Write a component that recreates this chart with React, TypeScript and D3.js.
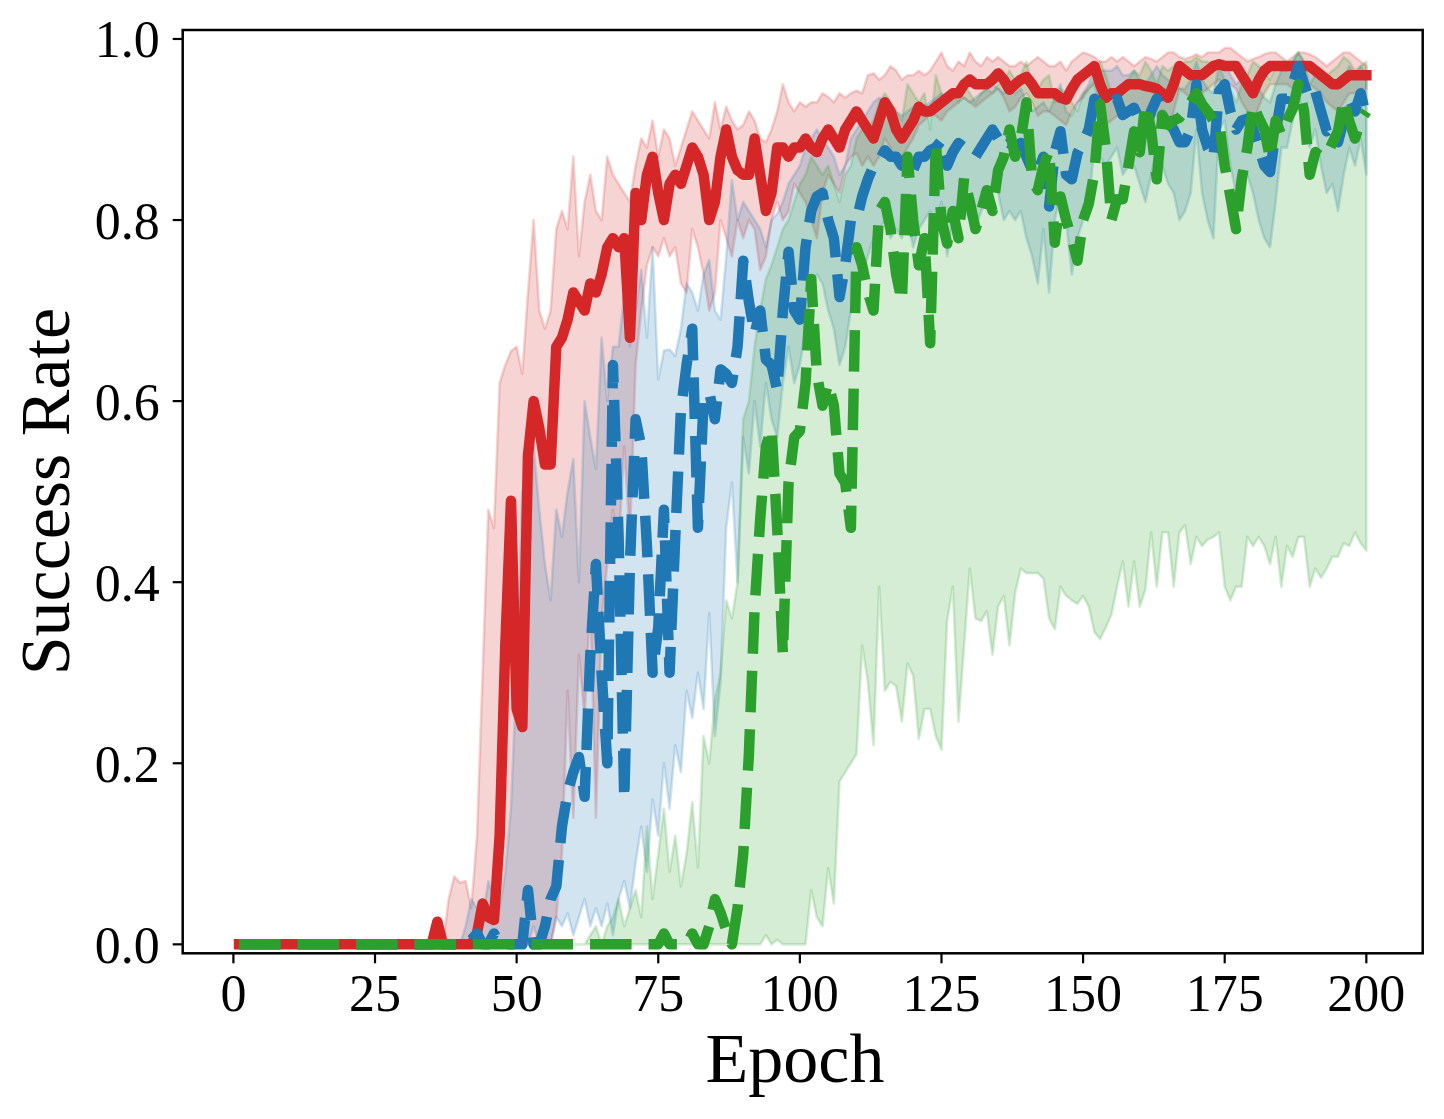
import * as d3 from 'd3';

// success rate per epoch (epochs 1..200)
const EPOCHS = d3.range(1, 201);

const RED_MEAN = [
  0, 0, 0, 0, 0, 0, 0, 0, 0, 0,
  0, 0, 0, 0, 0, 0, 0, 0, 0, 0,
  0, 0, 0, 0, 0, 0, 0, 0, 0, 0,
  0, 0, 0, 0, 0, 0.025, 0, 0, 0, 0,
  0, 0, 0.012, 0.045, 0.03, 0.027, 0.12, 0.33, 0.49, 0.26,
  0.24, 0.54, 0.6, 0.57, 0.53, 0.53, 0.66, 0.67, 0.69, 0.72,
  0.71, 0.7, 0.73, 0.72, 0.74, 0.77, 0.78, 0.77, 0.78, 0.67,
  0.83, 0.8, 0.85, 0.87, 0.83, 0.8, 0.84, 0.85, 0.84, 0.86,
  0.88, 0.87, 0.85, 0.8, 0.82, 0.87, 0.9, 0.87, 0.855, 0.85,
  0.85, 0.89, 0.85, 0.81, 0.83, 0.88, 0.88, 0.87, 0.88, 0.88,
  0.89, 0.88, 0.875, 0.89, 0.9, 0.89, 0.88, 0.9, 0.91, 0.92,
  0.91, 0.9, 0.89, 0.91, 0.93, 0.92, 0.9, 0.89, 0.9, 0.91,
  0.925, 0.92, 0.92, 0.925, 0.93, 0.935, 0.94, 0.94, 0.95, 0.955,
  0.95, 0.95, 0.95, 0.955, 0.962, 0.955, 0.944, 0.95, 0.955, 0.958,
  0.95, 0.94, 0.94, 0.94, 0.94, 0.935, 0.933, 0.945, 0.955, 0.96,
  0.965, 0.97, 0.95, 0.935, 0.94, 0.94, 0.945, 0.95, 0.95, 0.95,
  0.948, 0.947, 0.945, 0.94, 0.935, 0.95, 0.97, 0.965, 0.96, 0.96,
  0.96, 0.965, 0.97, 0.972, 0.97, 0.97, 0.97, 0.96, 0.95, 0.94,
  0.955, 0.965, 0.97, 0.97, 0.97, 0.97, 0.97, 0.97, 0.97, 0.97,
  0.965, 0.96, 0.955, 0.95, 0.95, 0.955, 0.96, 0.96, 0.96, 0.96,
];
const RED_UP = [
  0, 0, 0, 0, 0, 0, 0, 0, 0, 0,
  0, 0, 0, 0, 0, 0, 0, 0, 0, 0,
  0, 0, 0, 0, 0, 0, 0, 0, 0, 0,
  0, 0, 0, 0, 0, 0, 0, 0.05, 0.075, 0.068,
  0.07, 0.04, 0.12, 0.3, 0.48, 0.46, 0.62, 0.64, 0.655, 0.66,
  0.63, 0.72, 0.8, 0.7, 0.68, 0.7, 0.79, 0.81, 0.79, 0.87,
  0.76, 0.82, 0.85, 0.81, 0.8, 0.87, 0.85, 0.84, 0.83, 0.82,
  0.86, 0.89, 0.88, 0.91, 0.87, 0.9, 0.89, 0.86, 0.88, 0.9,
  0.92, 0.91, 0.9, 0.89, 0.93, 0.9, 0.925, 0.91, 0.9, 0.905,
  0.92, 0.91, 0.89, 0.886, 0.9, 0.92, 0.95, 0.93, 0.92, 0.93,
  0.925, 0.93, 0.93, 0.94, 0.936, 0.93, 0.94, 0.935, 0.94, 0.943,
  0.94, 0.96, 0.962, 0.955, 0.96, 0.97, 0.965, 0.955, 0.96, 0.96,
  0.965, 0.96, 0.965, 0.975, 0.985, 0.97, 0.965, 0.975, 0.97, 0.985,
  0.975, 0.97, 0.98, 0.975, 0.98, 0.975, 0.97, 0.97, 0.975, 0.97,
  0.975, 0.98, 0.975, 0.97, 0.97, 0.975, 0.965, 0.975, 0.98, 0.985,
  0.983, 0.98, 0.975, 0.975, 0.98, 0.975, 0.98, 0.975, 0.97, 0.975,
  0.98, 0.978, 0.975, 0.98, 0.985, 0.985, 0.98, 0.978, 0.98, 0.983,
  0.98, 0.985, 0.985, 0.985, 0.99, 0.99, 0.985, 0.98, 0.975, 0.978,
  0.98, 0.983, 0.985, 0.985, 0.98, 0.975, 0.98, 0.985, 0.985, 0.983,
  0.98, 0.975, 0.97, 0.975, 0.98, 0.985, 0.985, 0.98, 0.975, 0.97,
];
const RED_LO = [
  0, 0, 0, 0, 0, 0, 0, 0, 0, 0,
  0, 0, 0, 0, 0, 0, 0, 0, 0, 0,
  0, 0, 0, 0, 0, 0, 0, 0, 0, 0,
  0, 0, 0, 0, 0, 0, 0, 0, 0, 0,
  0, 0, 0, 0, 0, 0, 0, 0, 0, 0,
  0, 0, 0, 0, 0, 0, 0.03, 0.1, 0.28, 0.14,
  0.32, 0.25, 0.38, 0.14, 0.36, 0.42, 0.48, 0.44, 0.55, 0.45,
  0.64, 0.7, 0.75, 0.77, 0.76, 0.78, 0.76, 0.77, 0.73, 0.72,
  0.79, 0.77, 0.74, 0.7, 0.72, 0.8, 0.78, 0.76, 0.8, 0.78,
  0.8, 0.79, 0.745, 0.76, 0.8, 0.82, 0.8, 0.81, 0.84, 0.83,
  0.82, 0.8, 0.78, 0.83, 0.85, 0.84, 0.83, 0.86, 0.87, 0.874,
  0.86, 0.87, 0.86, 0.87, 0.89, 0.88, 0.86, 0.87, 0.88, 0.89,
  0.905, 0.91, 0.918, 0.915, 0.91, 0.92, 0.925, 0.93, 0.935, 0.93,
  0.925, 0.93, 0.935, 0.94, 0.945, 0.935, 0.92, 0.925, 0.935, 0.94,
  0.93, 0.915, 0.92, 0.92, 0.915, 0.91, 0.905, 0.92, 0.93, 0.935,
  0.945, 0.95, 0.925, 0.905, 0.91, 0.915, 0.92, 0.925, 0.925, 0.92,
  0.915, 0.92, 0.915, 0.91, 0.9, 0.92, 0.945, 0.94, 0.935, 0.935,
  0.94, 0.945, 0.95, 0.955, 0.95, 0.95, 0.945, 0.93, 0.92, 0.905,
  0.925, 0.94, 0.95, 0.95, 0.95, 0.95, 0.945, 0.95, 0.95, 0.95,
  0.945, 0.94, 0.93, 0.925, 0.92, 0.93, 0.94, 0.94, 0.945, 0.945,
];

const BLUE_MEAN = [
  0, 0, 0, 0, 0, 0, 0, 0, 0, 0,
  0, 0, 0, 0, 0, 0, 0, 0, 0, 0,
  0, 0, 0, 0, 0, 0, 0, 0, 0, 0,
  0, 0, 0, 0, 0, 0, 0, 0, 0, 0,
  0, 0.005, 0.012, 0, 0, 0.012, 0, 0, 0, 0,
  0, 0.06, 0, 0, 0.02, 0.05, 0.064, 0.13, 0.168, 0.19,
  0.207, 0.163, 0.32, 0.42, 0.3, 0.2, 0.64, 0.45, 0.16, 0.42,
  0.58, 0.55, 0.44, 0.3, 0.35, 0.48, 0.3, 0.45, 0.59, 0.64,
  0.68, 0.46, 0.6, 0.61, 0.58, 0.635, 0.63, 0.62, 0.66, 0.755,
  0.71, 0.674, 0.7, 0.646, 0.64, 0.612, 0.7, 0.765, 0.7, 0.69,
  0.77, 0.81, 0.826, 0.83, 0.8, 0.78, 0.715, 0.75, 0.8, 0.8,
  0.826, 0.845, 0.86, 0.866, 0.877, 0.87, 0.87, 0.86, 0.87, 0.855,
  0.87, 0.87, 0.877, 0.88, 0.888, 0.86, 0.875, 0.885, 0.88, 0.874,
  0.87, 0.88, 0.89, 0.9, 0.89, 0.88, 0.885, 0.88, 0.885, 0.87,
  0.855, 0.853, 0.87, 0.815, 0.875, 0.898, 0.85, 0.845, 0.874, 0.886,
  0.9, 0.934, 0.93, 0.928, 0.93, 0.934, 0.916, 0.92, 0.924, 0.91,
  0.898, 0.92, 0.934, 0.92, 0.909, 0.9, 0.886, 0.886, 0.9, 0.95,
  0.9, 0.88, 0.868, 0.942, 0.95, 0.92, 0.9, 0.91, 0.912, 0.9,
  0.88, 0.86, 0.853, 0.898, 0.934, 0.934, 0.95, 0.97, 0.95, 0.934,
  0.942, 0.92, 0.898, 0.905, 0.886, 0.91, 0.934, 0.92, 0.94, 0.913,
];
const BLUE_UP = [
  0, 0, 0, 0, 0, 0, 0, 0, 0, 0,
  0, 0, 0, 0, 0, 0, 0, 0, 0, 0,
  0, 0, 0, 0, 0, 0, 0, 0, 0, 0,
  0, 0, 0, 0, 0, 0, 0, 0, 0, 0,
  0.02, 0.05, 0.04, 0.03, 0.07, 0.05, 0.04, 0.08, 0.15, 0.3,
  0.5, 0.4, 0.55, 0.48, 0.42, 0.38, 0.48, 0.45, 0.5, 0.536,
  0.4, 0.6, 0.56, 0.525, 0.67, 0.6, 0.66, 0.66, 0.72, 0.66,
  0.7, 0.745, 0.67, 0.77, 0.624, 0.656, 0.657, 0.65, 0.68, 0.73,
  0.72, 0.7, 0.74, 0.756, 0.7, 0.69, 0.76, 0.844, 0.8, 0.82,
  0.81, 0.8, 0.79, 0.77, 0.8, 0.807, 0.82, 0.84, 0.85, 0.86,
  0.88, 0.89, 0.9, 0.89, 0.88, 0.87, 0.85, 0.86, 0.89, 0.9,
  0.91, 0.92, 0.93, 0.935, 0.93, 0.925, 0.92, 0.915, 0.92, 0.925,
  0.93, 0.925, 0.93, 0.935, 0.94, 0.93, 0.935, 0.94, 0.935, 0.93,
  0.935, 0.94, 0.945, 0.95, 0.945, 0.94, 0.945, 0.94, 0.945, 0.93,
  0.92, 0.925, 0.93, 0.92, 0.935, 0.95, 0.92, 0.915, 0.93, 0.94,
  0.95, 0.97, 0.965, 0.965, 0.965, 0.97, 0.96, 0.96, 0.965, 0.955,
  0.95, 0.96, 0.97, 0.96, 0.955, 0.95, 0.945, 0.945, 0.955, 0.975,
  0.955, 0.945, 0.94, 0.97, 0.975, 0.96, 0.95, 0.955, 0.96, 0.95,
  0.945, 0.935, 0.93, 0.95, 0.965, 0.965, 0.975, 0.985, 0.975, 0.965,
  0.97, 0.96, 0.95, 0.955, 0.945, 0.955, 0.97, 0.96, 0.97, 0.96,
];
const BLUE_LO = [
  0, 0, 0, 0, 0, 0, 0, 0, 0, 0,
  0, 0, 0, 0, 0, 0, 0, 0, 0, 0,
  0, 0, 0, 0, 0, 0, 0, 0, 0, 0,
  0, 0, 0, 0, 0, 0, 0, 0, 0, 0,
  0, 0, 0, 0, 0, 0, 0, 0, 0, 0,
  0.01, 0, 0.02, 0, 0.01, 0, 0.03, 0.02, 0.034, 0.01,
  0.03, 0.05, 0.02, 0.04, 0.02, 0.045, 0.01, 0.05, 0.07, 0.04,
  0.09, 0.13, 0.08, 0.16, 0.12, 0.2, 0.15, 0.22, 0.19, 0.28,
  0.25, 0.3, 0.26, 0.366, 0.23, 0.29, 0.46, 0.51, 0.4, 0.56,
  0.52, 0.6, 0.55, 0.62, 0.58, 0.56, 0.62, 0.66, 0.62, 0.64,
  0.68, 0.72, 0.74, 0.73, 0.7, 0.68, 0.64, 0.66, 0.7, 0.72,
  0.74, 0.76, 0.78, 0.79, 0.8, 0.78, 0.79, 0.78, 0.8, 0.77,
  0.79, 0.8, 0.81, 0.8, 0.82, 0.76, 0.8, 0.82, 0.81, 0.8,
  0.79, 0.81, 0.82, 0.84, 0.83, 0.8, 0.81, 0.8, 0.81, 0.78,
  0.76, 0.73, 0.79, 0.72, 0.8, 0.83, 0.8, 0.74, 0.78, 0.8,
  0.82, 0.88, 0.87, 0.86, 0.87, 0.88, 0.85, 0.86, 0.86, 0.84,
  0.82, 0.85, 0.88, 0.86, 0.84, 0.83, 0.8, 0.81, 0.83, 0.9,
  0.83, 0.8, 0.78, 0.9, 0.91, 0.86, 0.83, 0.85, 0.85, 0.83,
  0.8, 0.78, 0.77, 0.82, 0.88, 0.88, 0.91, 0.94, 0.91, 0.88,
  0.9, 0.86, 0.83, 0.84, 0.81, 0.85, 0.88, 0.86, 0.89, 0.85,
];

const GREEN_MEAN = [
  0, 0, 0, 0, 0, 0, 0, 0, 0, 0,
  0, 0, 0, 0, 0, 0, 0, 0, 0, 0,
  0, 0, 0, 0, 0, 0, 0, 0, 0, 0,
  0, 0, 0, 0, 0, 0, 0, 0, 0, 0,
  0, 0, 0, 0, 0, 0, 0, 0, 0, 0,
  0, 0, 0, 0, 0, 0, 0, 0, 0, 0,
  0, 0, 0, 0, 0, 0, 0, 0, 0, 0,
  0, 0, 0, 0, 0, 0.012, 0, 0, 0, 0,
  0.012, 0, 0, 0.02, 0.05, 0.035, 0.016, 0, 0.04, 0.1,
  0.21, 0.37, 0.47, 0.55, 0.57, 0.46, 0.32, 0.51, 0.56, 0.567,
  0.62, 0.735, 0.63, 0.595, 0.62, 0.595, 0.52, 0.51, 0.46, 0.77,
  0.75, 0.72, 0.7, 0.81, 0.82, 0.79, 0.74, 0.71, 0.87, 0.8,
  0.75, 0.78, 0.664, 0.885, 0.8, 0.774, 0.81, 0.78, 0.847, 0.82,
  0.79, 0.81, 0.833, 0.81, 0.855, 0.87, 0.9, 0.87, 0.89, 0.93,
  0.844, 0.833, 0.86, 0.877, 0.775, 0.826, 0.8, 0.78, 0.755, 0.8,
  0.818, 0.853, 0.928, 0.88, 0.8, 0.823, 0.823, 0.86, 0.898, 0.875,
  0.928, 0.9, 0.845, 0.916, 0.905, 0.91, 0.913, 0.92, 0.93, 0.94,
  0.928, 0.92, 0.91, 0.909, 0.86, 0.826, 0.79, 0.845, 0.88, 0.928,
  0.913, 0.9, 0.868, 0.91, 0.894, 0.91, 0.923, 0.95, 0.92, 0.85,
  0.875, 0.87, 0.872, 0.885, 0.898, 0.934, 0.909, 0.89, 0.91, 0.92,
];
const GREEN_UP = [
  0, 0, 0, 0, 0, 0, 0, 0, 0, 0,
  0, 0, 0, 0, 0, 0, 0, 0, 0, 0,
  0, 0, 0, 0, 0, 0, 0, 0, 0, 0,
  0, 0, 0, 0, 0, 0, 0, 0, 0, 0,
  0, 0, 0, 0, 0, 0, 0, 0, 0, 0,
  0, 0, 0, 0, 0, 0, 0, 0, 0, 0,
  0, 0, 0.01, 0.02, 0, 0.02, 0.03, 0.05, 0.02, 0.04,
  0.06, 0.03, 0.13, 0.05, 0.1, 0.15, 0.08, 0.12, 0.064, 0.1,
  0.157, 0.085, 0.23, 0.2, 0.27, 0.3, 0.38, 0.36, 0.4, 0.58,
  0.6, 0.66, 0.7, 0.735, 0.75, 0.77, 0.79, 0.8, 0.82, 0.84,
  0.85, 0.87, 0.86, 0.85, 0.86, 0.84, 0.82, 0.85, 0.86, 0.89,
  0.9, 0.9, 0.91, 0.93, 0.94, 0.93, 0.92, 0.91, 0.95, 0.94,
  0.93, 0.94, 0.9, 0.96, 0.94, 0.93, 0.94, 0.93, 0.95, 0.94,
  0.93, 0.94, 0.945, 0.94, 0.95, 0.955, 0.965, 0.955, 0.96, 0.975,
  0.95, 0.945, 0.955, 0.96, 0.93, 0.945, 0.94, 0.93, 0.92, 0.94,
  0.945, 0.955, 0.975, 0.96, 0.94, 0.945, 0.945, 0.955, 0.965, 0.96,
  0.975, 0.965, 0.95, 0.97, 0.965, 0.97, 0.97, 0.975, 0.975, 0.98,
  0.975, 0.975, 0.97, 0.97, 0.955, 0.945, 0.93, 0.95, 0.96, 0.975,
  0.97, 0.965, 0.955, 0.97, 0.965, 0.97, 0.975, 0.985, 0.975, 0.95,
  0.96, 0.96, 0.96, 0.965, 0.97, 0.98, 0.975, 0.965, 0.97, 0.975,
];
const GREEN_LO = [
  0, 0, 0, 0, 0, 0, 0, 0, 0, 0,
  0, 0, 0, 0, 0, 0, 0, 0, 0, 0,
  0, 0, 0, 0, 0, 0, 0, 0, 0, 0,
  0, 0, 0, 0, 0, 0, 0, 0, 0, 0,
  0, 0, 0, 0, 0, 0, 0, 0, 0, 0,
  0, 0, 0, 0, 0, 0, 0, 0, 0, 0,
  0, 0, 0, 0, 0, 0, 0, 0, 0, 0,
  0, 0, 0, 0, 0, 0, 0, 0, 0, 0,
  0, 0, 0, 0, 0, 0, 0, 0, 0, 0,
  0, 0, 0, 0.01, 0, 0.005, 0, 0, 0, 0,
  0, 0.06, 0.03, 0.02, 0.084, 0.045, 0.18, 0.19, 0.2, 0.21,
  0.33, 0.29, 0.22, 0.395, 0.28, 0.29, 0.285, 0.246, 0.31, 0.297,
  0.227, 0.26, 0.26, 0.23, 0.215, 0.357, 0.395, 0.246, 0.33, 0.415,
  0.36, 0.357, 0.368, 0.32, 0.373, 0.385, 0.33, 0.388, 0.415, 0.41,
  0.41, 0.41, 0.404, 0.36, 0.348, 0.395, 0.385, 0.38, 0.376, 0.385,
  0.373, 0.345, 0.337, 0.35, 0.364, 0.395, 0.423, 0.373, 0.423, 0.373,
  0.392, 0.455, 0.395, 0.455, 0.455, 0.395, 0.455, 0.463, 0.42, 0.45,
  0.44, 0.447, 0.45, 0.455, 0.395, 0.38, 0.395, 0.395, 0.45, 0.44,
  0.45, 0.44, 0.42, 0.45, 0.395, 0.44, 0.428, 0.45, 0.45, 0.395,
  0.415, 0.405, 0.415, 0.428, 0.428, 0.443, 0.44, 0.455, 0.443, 0.435,
];

const X_TICKS = [0, 25, 50, 75, 100, 125, 150, 175, 200];
const Y_TICKS = [0, 0.2, 0.4, 0.6, 0.8, 1.0];
const Y_TICK_LABELS = ['0.0', '0.2', '0.4', '0.6', '0.8', '1.0'];

const SERIES = [
  { key: 'red', mean: RED_MEAN, lo: RED_LO, hi: RED_UP, color: '#d62728', dashed: false },
  { key: 'blue', mean: BLUE_MEAN, lo: BLUE_LO, hi: BLUE_UP, color: '#1f77b4', dashed: true },
  { key: 'green', mean: GREEN_MEAN, lo: GREEN_LO, hi: GREEN_UP, color: '#2ca02c', dashed: true },
];

const FONT = '"Liberation Serif", "Times New Roman", serif';

export default function App() {
  const width = 1444;
  const height = 1119;
  const box = { left: 182.7, right: 1422.7, top: 30, bottom: 953.3 };

  const x = d3.scaleLinear().domain([-8.95, 209.95]).range([box.left, box.right]);
  const y = d3.scaleLinear().domain([-0.0099, 1.0099]).range([box.bottom, box.top]);

  const band = (lo: number[], hi: number[]) =>
    d3
      .area<number>()
      .x((d) => x(d))
      .y0((_, i) => y(lo[i]))
      .y1((_, i) => y(hi[i]))(EPOCHS) || '';

  const line = (vals: number[]) =>
    d3
      .line<number>()
      .x((d) => x(d))
      .y((_, i) => y(vals[i]))(EPOCHS) || '';

  return (
    <svg
      width={width}
      height={height}
      style={{ position: 'absolute', left: 0, top: 0, background: '#fff' }}
    >
      <defs>
        <clipPath id="plot-clip">
          <rect x={box.left} y={box.top} width={box.right - box.left} height={box.bottom - box.top} />
        </clipPath>
      </defs>

      <g clipPath="url(#plot-clip)">
        {/* shaded ranges first */}
        {SERIES.map((s) => (
          <path
            key={`band-${s.key}`}
            d={band(s.lo, s.hi)}
            fill={s.color}
            fillOpacity={0.2}
            stroke={s.color}
            strokeOpacity={0.2}
            strokeWidth={2.6}
            strokeLinejoin="round"
          />
        ))}
        {/* then the mean curves */}
        {SERIES.map((s) => (
          <path
            key={`line-${s.key}`}
            d={line(s.mean)}
            fill="none"
            stroke={s.color}
            strokeWidth={10.5}
            strokeLinejoin="round"
            strokeLinecap={s.dashed ? 'butt' : 'square'}
            strokeDasharray={s.dashed ? '41.5 17' : undefined}
          />
        ))}
      </g>

      {/* x axis ticks */}
      {X_TICKS.map((t) => (
        <g key={`xt-${t}`} transform={`translate(${x(t)},${box.bottom})`}>
          <line y1={0} y2={10} stroke="#000" strokeWidth={2.2} />
          <text y={58} textAnchor="middle" fontFamily={FONT} fontSize={52} fill="#000">
            {t}
          </text>
        </g>
      ))}

      {/* y axis ticks */}
      {Y_TICKS.map((t, i) => (
        <g key={`yt-${t}`} transform={`translate(${box.left},${y(t)})`}>
          <line x1={0} x2={-10} stroke="#000" strokeWidth={2.2} />
          <text x={-23} y={18.5} textAnchor="end" fontFamily={FONT} fontSize={52} fill="#000">
            {Y_TICK_LABELS[i]}
          </text>
        </g>
      ))}

      <rect
        x={box.left}
        y={box.top}
        width={box.right - box.left}
        height={box.bottom - box.top}
        fill="none"
        stroke="#000"
        strokeWidth={2.5}
      />

      <text x={795} y={1082} textAnchor="middle" fontFamily={FONT} fontSize={70} fill="#000">
        Epoch
      </text>
      <text
        transform={`translate(69,${(box.top + box.bottom) / 2}) rotate(-90)`}
        textAnchor="middle"
        fontFamily={FONT}
        fontSize={70}
        fill="#000"
      >
        Success Rate
      </text>
    </svg>
  );
}
